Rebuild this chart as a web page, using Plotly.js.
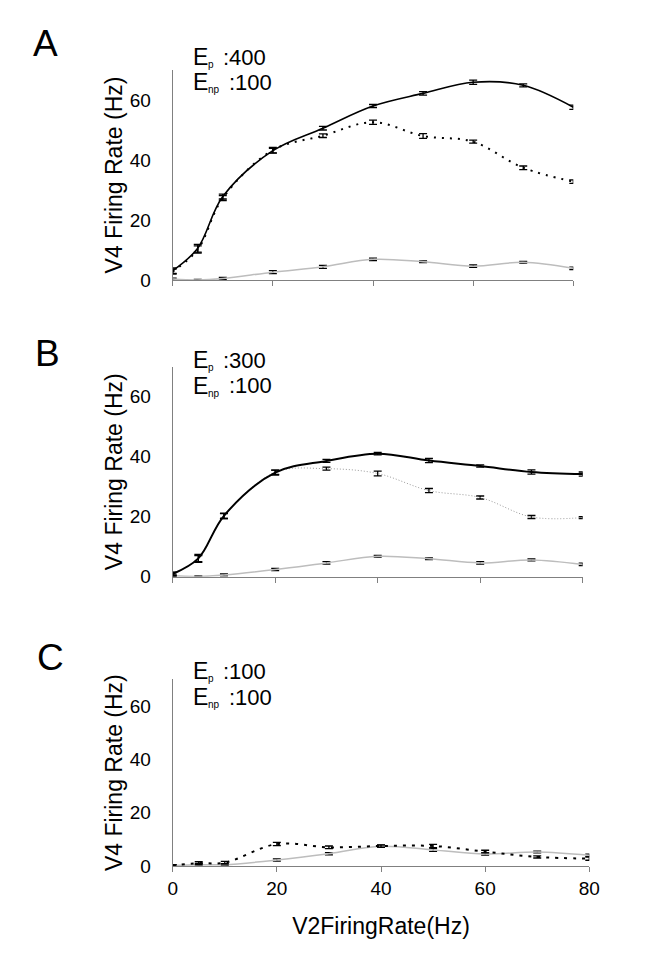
<!DOCTYPE html>
<html>
<head>
<meta charset="utf-8">
<script src="https://cdn.plot.ly/plotly-3.0.1.min.js"></script>
<style>html,body{margin:0;padding:0;background:#fff;}#chart{width:649px;height:959px;}</style>
</head>
<body>
<div id="chart"></div>
<script>
// V2 firing rate (Hz)
const v2Rate = [0, 5, 10, 20, 30, 40, 50, 60, 70, 80];
const xTicks = [0, 20, 40, 60, 80];
const yTicks = [0, 20, 40, 60];

// Panel A (Ep:400, Enp:100)
const aSolid = [3.1, 10.6, 27.8, 43.1, 50.6, 58.0, 62.2, 65.9, 64.9, 57.6];
const aSolidErr = [0.9, 1.3, 0.8, 0.8, 0.6, 0.5, 0.6, 0.7, 0.5, 0.7];
const aDotted = [2.8, 10.2, 27.3, 43.3, 48.1, 52.6, 48.0, 46.1, 37.4, 32.8];
const aDottedErr = [0.8, 1.2, 0.8, 0.9, 0.6, 0.7, 0.8, 0.5, 0.6, 0.6];
const aGray = [0.3, 0.0, 0.5, 2.6, 4.4, 6.9, 6.1, 4.6, 5.9, 3.9];
const aGrayErr = [0.3, 0.2, 0.4, 0.5, 0.5, 0.4, 0.3, 0.4, 0.3, 0.4];

// Panel B (Ep:300, Enp:100)
const bSolid = [0.9, 6.1, 20.3, 34.7, 38.6, 41.0, 38.7, 36.9, 34.9, 34.2];
const bSolidErr = [0.6, 1.3, 0.9, 0.8, 0.5, 0.4, 0.7, 0.4, 0.7, 0.7];
const bDotted = [0.9, 6.0, 20.2, 34.8, 36.0, 34.4, 28.7, 26.4, 19.9, 19.7];
const bDottedErr = [0.5, 1.0, 0.8, 0.7, 0.5, 0.8, 0.7, 0.5, 0.5, 0.3];
const bGray = [0.3, 0.1, 0.6, 2.4, 4.6, 6.8, 6.0, 4.6, 5.6, 4.1];
const bGrayErr = [0.3, 0.2, 0.3, 0.4, 0.4, 0.3, 0.3, 0.4, 0.3, 0.4];

// Panel C (Ep:100, Enp:100)
const cDotted = [0.2, 1.1, 1.25, 8.25, 7.0, 7.5, 7.5, 5.4, 3.4, 2.75];
const cDottedErr = [0.3, 0.5, 0.5, 0.6, 0.5, 0.4, 0.6, 0.5, 0.4, 0.6];
const cGray = [0.2, 0.5, 0.5, 2.25, 4.6, 7.4, 6.0, 4.5, 5.25, 4.0];
const cGrayErr = [0.3, 0.4, 0.4, 0.4, 0.4, 0.4, 0.5, 0.4, 0.3, 0.4];

const panelLabels = ['A', 'B', 'C'];
const epValues = ['400', '300', '100'];
const enpValues = ['100', '100', '100'];

const W = 649, H = 959;
const FONT = 'Liberation Sans, Arial, sans-serif';

function err(arr) {
  return {type: 'data', array: arr, visible: true, color: '#000', thickness: 1.3, width: 4};
}
function tr(y, e, xa, ya, line) {
  return {x: v2Rate, y: y, xaxis: xa, yaxis: ya, mode: 'lines', type: 'scatter',
    line: Object.assign({shape: 'spline', smoothing: 1}, line), error_y: err(e),
    cliponaxis: false, showlegend: false, hoverinfo: 'x+y'};
}
const GRAY = '#bdbdbd';
const data = [
  tr(aGray, aGrayErr, 'x', 'y', {color: GRAY, width: 1.5}),
  tr(aDotted, aDottedErr, 'x', 'y', {color: '#000', width: 2, dash: '2px,6px'}),
  tr(aSolid, aSolidErr, 'x', 'y', {color: '#000', width: 1.6}),
  tr(bGray, bGrayErr, 'x2', 'y2', {color: GRAY, width: 1.5}),
  tr(bDotted, bDottedErr, 'x2', 'y2', {color: '#999', width: 1, dash: '1px,2px'}),
  tr(bSolid, bSolidErr, 'x2', 'y2', {color: '#000', width: 2}),
  tr(cGray, cGrayErr, 'x3', 'y3', {color: GRAY, width: 1.5}),
  tr(cDotted, cDottedErr, 'x3', 'y3', {color: '#000', width: 2, dash: '3px,6px'})
];

// panel geometry in pixels: [xLeft, xRight, yBottom, yTop]
const geo = [
  [172.7, 573.3, 280, 70],
  [172.7, 582.7, 576.7, 366.7],
  [172.7, 589.3, 866, 679.3]
];
const letterPos = [[45.5, 43.5], [47, 353], [50, 657]];
// vertical centres (px) of the two parameter lines per panel
const paramY = [[57.5, 82.5], [360, 386], [671, 697]];

const layout = {
  width: W, height: H,
  margin: {l: 0, r: 0, t: 0, b: 0},
  paper_bgcolor: '#fff', plot_bgcolor: '#fff',
  font: {family: FONT, color: '#000', size: 19},
  annotations: []
};

function txt(xpx, ypx, text, size, anchor) {
  return {xref: 'paper', yref: 'paper', x: xpx / W, y: 1 - ypx / H,
    xanchor: anchor || 'left', yanchor: 'middle', showarrow: false,
    text: text, font: {size: size, family: FONT, color: '#000'}};
}

geo.forEach((g, i) => {
  const sfx = i === 0 ? '' : String(i + 1);
  const last = i === 2;
  const xa = {
    domain: [g[0] / W, g[1] / W], range: [0, 80], anchor: 'y' + sfx,
    tickvals: xTicks, ticktext: xTicks.map(String), showticklabels: last,
    ticks: 'outside', ticklen: 5, tickcolor: '#808080', tickwidth: 1,
    showline: true, linecolor: '#808080', linewidth: 1,
    showgrid: false, zeroline: false, ticklabelstandoff: 0,
    tickfont: {size: 19, family: FONT}
  };
  if (last) xa.title = {text: 'V2FiringRate(Hz)', font: {size: 23, family: FONT}, standoff: 20};
  layout['xaxis' + sfx] = xa;
  layout['yaxis' + sfx] = {
    domain: [1 - g[2] / H, 1 - g[3] / H], range: [0, 70], anchor: 'x' + sfx,
    tickvals: yTicks, ticktext: yTicks.map(String),
    ticks: '', showline: true, linecolor: '#808080', linewidth: 1,
    showgrid: false, zeroline: false, ticklabelstandoff: 17,
    tickfont: {size: 19, family: FONT},
    title: {text: 'V4 Firing Rate (Hz)', font: {size: 23, family: FONT}, standoff: 0}
  };
  layout.annotations.push(txt(letterPos[i][0], letterPos[i][1], panelLabels[i], 37, 'center'));
  const y1 = paramY[i][0], y2 = paramY[i][1];
  layout.annotations.push(txt(191, y1, 'E', 23));
  layout.annotations.push(txt(206, y1 + 7, 'p', 10));
  layout.annotations.push(txt(221, y1, ':' + epValues[i], 22));
  layout.annotations.push(txt(191, y2, 'E', 23));
  layout.annotations.push(txt(206, y2 + 7, 'np', 10));
  layout.annotations.push(txt(227, y2, ':' + enpValues[i], 22));
});

Plotly.newPlot('chart', data, layout, {staticPlot: true, displayModeBar: false});
</script>
</body>
</html>
